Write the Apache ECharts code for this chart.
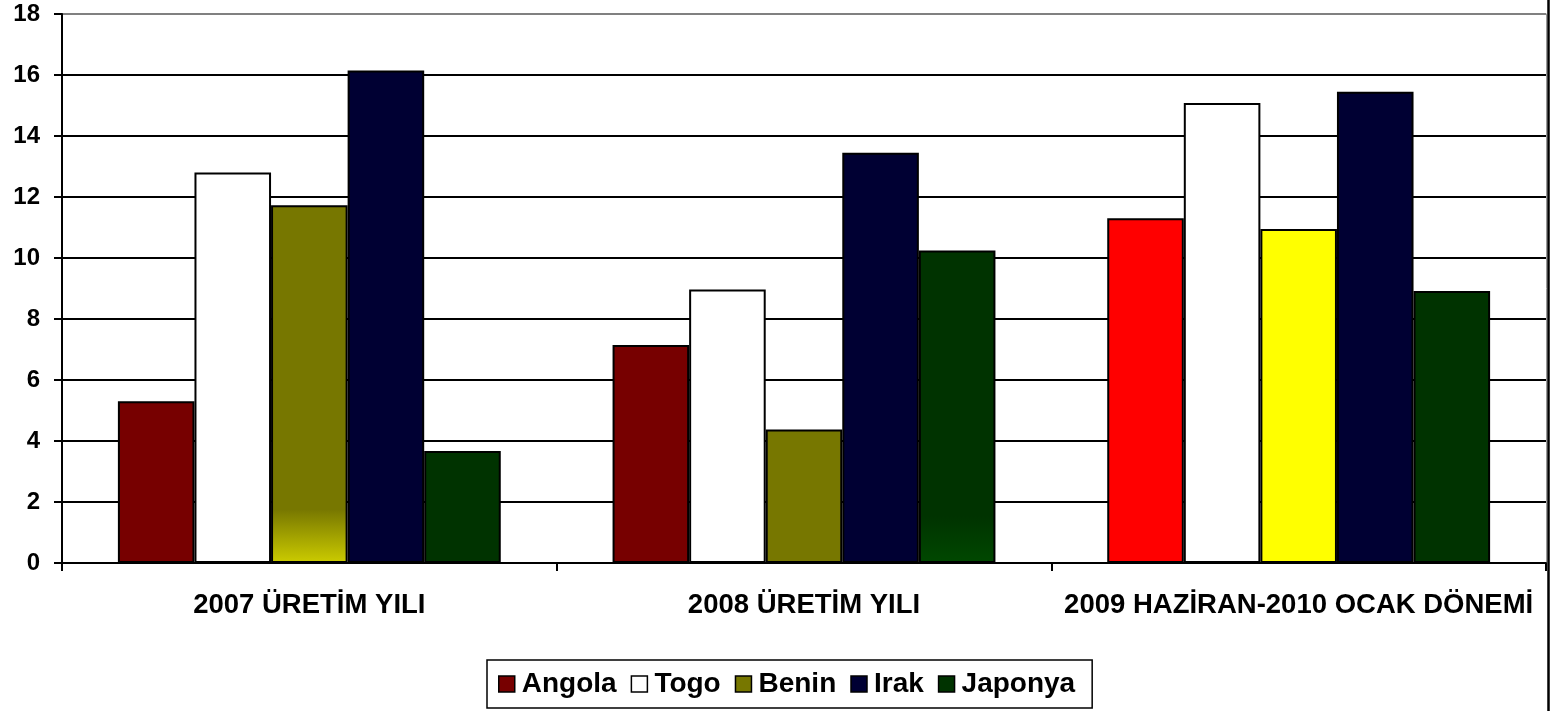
<!DOCTYPE html>
<html><head><meta charset="utf-8">
<script src="https://cdn.jsdelivr.net/npm/echarts@6/dist/echarts.min.js"></script>
<style>html,body{margin:0;padding:0;background:#fff}#c{width:1554px;height:711px}</style>
</head><body><div id="c"></div>
<script>
const categories = ['2007 ÜRETİM YILI', '2008 ÜRETİM YILI', '2009 HAZİRAN-2010 OCAK DÖNEMİ'];
const seriesNames = ['Angola', 'Togo', 'Benin', 'Irak', 'Japonya'];
const angola = [5.3, 7.15, 11.3];
const togo = [12.8, 8.97, 15.08];
const benin = [11.73, 4.38, 10.95];
const irak = [16.15, 13.45, 15.45];
const japonya = [3.67, 10.25, 8.92];
const yTicks = [0, 2, 4, 6, 8, 10, 12, 14, 16, 18];

const baseColors = ['#770000', '#ffffff', '#777700', '#000033', '#003300'];
const itemOverrides = {
  'Angola': {2: '#ff0000'},
  'Benin': {0: {type:'linear',x:0,y:0,x2:0,y2:1,colorStops:[{offset:0,color:'#777700'},{offset:0.85,color:'#777700'},{offset:1,color:'#cccc00'}]}, 2: '#ffff00'},
  'Japonya': {1: {type:'linear',x:0,y:0,x2:0,y2:1,colorStops:[{offset:0,color:'#003300'},{offset:0.85,color:'#003300'},{offset:1,color:'#004800'}]}}
};
const allData = [angola, togo, benin, irak, japonya];

const series = seriesNames.map((name, i) => ({
  name, type: 'bar', barGap: '0%', barCategoryGap: '22.6%',
  itemStyle: {color: baseColors[i], borderColor: '#000', borderWidth: 2},
  data: allData[i].map((v, j) => {
    const o = itemOverrides[name] && itemOverrides[name][j];
    return o ? {value: v, itemStyle: {color: o}} : v;
  })
}));

const chart = echarts.init(document.getElementById('c'));
chart.setOption({
  animation: false,
  backgroundColor: '#fff',
  textStyle: {fontFamily: 'Liberation Sans, Arial, sans-serif'},
  grid: {left: 62, right: 8, top: 14, bottom: 148, containLabel: false},
  legend: {
    bottom: 3, left: 487,
    data: seriesNames.map((n, i) => ({name: n, itemStyle: {color: baseColors[i], borderColor: '#000', borderWidth: 1.5}})),
    itemWidth: 16, itemHeight: 16, itemGap: 14,
    icon: 'rect',
    borderColor: '#000', borderWidth: 1.5, padding: [10, 17, 10, 11],
    textStyle: {fontSize: 28, fontWeight: 'bold', color: '#000', padding: [0, 0, 0, 2]}
  },
  xAxis: {
    type: 'category', data: categories,
    axisLine: {lineStyle: {color: '#000', width: 2}},
    axisTick: {show: true, interval: 0, length: 8, lineStyle: {color: '#000', width: 2}},
    axisLabel: {interval: 0, hideOverlap: false, fontSize: 27.5, fontWeight: 'bold', color: '#000', margin: 28}
  },
  yAxis: [{
    type: 'value', min: 0, max: 18, interval: 2,
    axisLine: {show: true, lineStyle: {color: '#000', width: 2}},
    axisTick: {show: true, length: 8, lineStyle: {color: '#000', width: 2}},
    axisLabel: {fontSize: 24, fontWeight: 'bold', color: '#000', margin: 22},
    splitLine: {show: true, lineStyle: {color: ['#000','#000','#000','#000','#000','#000','#000','#000','#000','#808080'], width: 2}}
  }, {
    type: 'value', min: 0, max: 18, interval: 2, position: 'right',
    axisLine: {show: true, lineStyle: {color: '#999', width: 1}},
    axisTick: {show: false}, axisLabel: {show: false}, splitLine: {show: false}
  }],
  graphic: [{
    type: 'line', shape: {x1: 1548.5, y1: 0, x2: 1548.5, y2: 711},
    style: {stroke: '#000', lineWidth: 2.5}
  }],
  series
});
</script></body></html>
